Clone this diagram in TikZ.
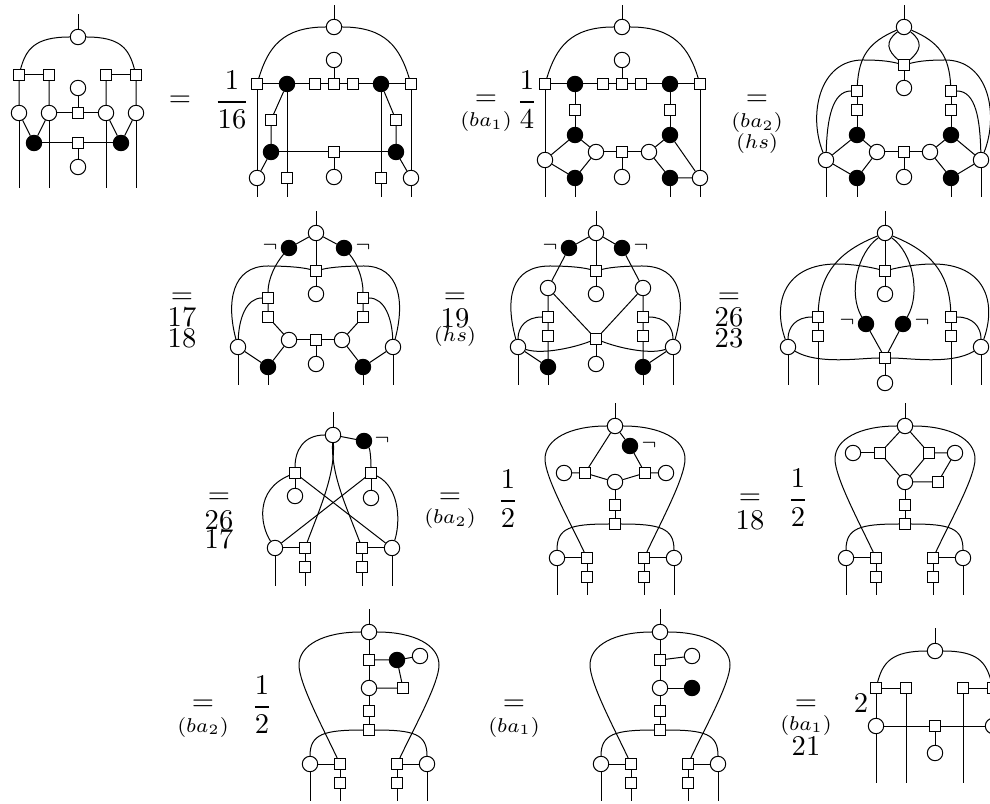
\documentclass[tikz,border=0pt]{standalone}
\usepackage{amsfonts, amssymb, amsmath}
\usepackage{tikz}
\tikzset{
  wn/.style={circle,draw,fill=white,inner sep=0pt,minimum size=5.4pt},
  bn/.style={circle,draw,fill=black,inner sep=0pt,minimum size=5.4pt},
  sq/.style={rectangle,draw,fill=white,inner sep=0pt,minimum size=3.8pt},
  lab/.style={inner sep=0pt},
  sublab/.style={inner sep=0pt,font=\scriptsize}
}
\newcommand{\bigarc}[3]{\draw (#1) .. controls +(#3*45,0) and +(0,-20) .. ++(#3*70,33) .. controls +(0,18) and +(#3*18,-38) .. (#2);}
\newcommand{\footarc}[3]{\draw (#1) .. controls +(#3*45,0) and +(0,-30) .. (#2);}
\newcommand{\thickfrac}[2]{$\genfrac{}{}{0.7pt}{0}{#1}{#2}$}
\begin{document}
\begin{tikzpicture}[x=0.35pt,y=-0.35pt,line width=0.35pt]
  \useasboundingbox (0,0) rectangle (990,804);
  \clip (0,0) rectangle (990,804);

  \foreach \n/\x/\y in {a0/78/37,a1/19/113,a2/49/113,a3/106/113,a4/136/113,a5/78/88,a6/78/167} \node[wn] (\n) at (\x,\y) {};
  \foreach \n/\x/\y in {as1/19/75,as2/49/75,as3/106/75,as4/136/75,as5/78/113,as6/78/143} \node[sq] (\n) at (\x,\y) {};
  \foreach \n/\x/\y in {ab1/34/143,ab2/121/143} \node[bn] (\n) at (\x,\y) {};
  \draw (a0) .. controls +(-43,0) and +(7,-26) .. (as1);
  \draw (a0) .. controls +(43,0) and +(-7,-26) .. (as4);
  \draw (as1) -- (as2);
  \draw (as3) -- (as4);
  \draw (as1) -- (a1) -- (ab1) -- (a2) -- (as2);
  \draw (as4) -- (a4) -- (ab2) -- (a3) -- (as3);
  \draw (a2) -- (as5) -- (a3);
  \draw (a5) -- (as5);
  \draw (ab1) -- (as6) -- (ab2);
  \draw (as6) -- (a6);

  \foreach \n/\x/\y in {b0/334/27,b1/334/60,b2/257/178,b3/411/178,b4/334/177} \node[wn] (\n) at (\x,\y) {};
  \foreach \n/\x/\y in {bs1/257/84,bs2/315/84,bs3/334/84,bs4/353/84,bs5/411/84,bs6/271/120,bs7/396/120,bs8/334/152,bs9/287/178,bs10/381/178} \node[sq] (\n) at (\x,\y) {};
  \foreach \n/\x/\y in {bb1/287/84,bb2/381/84,bb3/271/152,bb4/396/152} \node[bn] (\n) at (\x,\y) {};
  \draw (b0) .. controls +(-52,0) and +(11,-36) .. (bs1);
  \draw (b0) .. controls +(52,0) and +(-11,-36) .. (bs5);
  \draw (bs1) -- (bb1) -- (bs2) -- (bs3) -- (bs4) -- (bb2) -- (bs5);
  \draw (b1) -- (bs3);
  \draw (bs1) -- (b2);
  \draw (bs5) -- (b3);
  \draw (bb1) -- (bs9);
  \draw (bb2) -- (bs10);
  \draw (bb1) -- (bs6) -- (bb3) -- (b2);
  \draw (bb2) -- (bs7) -- (bb4) -- (b3);
  \draw (bb3) -- (bs8) -- (bb4);
  \draw (bs8) -- (b4);

  \foreach \n/\x/\y in {c0/622/27,c1/622/60,c2/545/160,c3/596/152,c4/649/152,c5/700/178,c6/622/177} \node[wn] (\n) at (\x,\y) {};
  \foreach \n/\x/\y in {cs1/545/84,cs2/603/84,cs3/622/84,cs4/641/84,cs5/700/84,cs6/575/110,cs7/670/110,cs8/622/152} \node[sq] (\n) at (\x,\y) {};
  \foreach \n/\x/\y in {cb1/575/84,cb2/670/84,cb3/575/135,cb4/670/135,cb5/575/178,cb6/670/178} \node[bn] (\n) at (\x,\y) {};
  \draw (c0) .. controls +(-52,0) and +(11,-36) .. (cs1);
  \draw (c0) .. controls +(52,0) and +(-11,-36) .. (cs5);
  \draw (cs1) -- (cb1) -- (cs2) -- (cs3) -- (cs4) -- (cb2) -- (cs5);
  \draw (c1) -- (cs3);
  \draw (cs1) -- (c2);
  \draw (cs5) -- (c5);
  \draw (cb1) -- (cs6) -- (cb3);
  \draw (cb2) -- (cs7) -- (cb4);
  \draw (cb3) -- (c2) -- (cb5) -- (c3) -- (cb3);
  \draw (cb4) -- (c4) -- (cb6) -- (c5) -- (cb4);
  \draw (c3) -- (cs8) -- (c4);
  \draw (cs8) -- (c6);

  \foreach \n/\x/\y in {d0/904/27,d1/904/88,d2/826/160,d3/877/152,d4/930/152,d5/981/160,d6/904/177} \node[wn] (\n) at (\x,\y) {};
  \foreach \n/\x/\y in {ds1/904/65,ds2/857/91,ds3/951/91,ds4/857/110,ds5/951/110,ds6/904/152} \node[sq] (\n) at (\x,\y) {};
  \foreach \n/\x/\y in {db1/857/135,db2/951/135,db3/857/178,db4/951/178} \node[bn] (\n) at (\x,\y) {};
  \draw (d0) .. controls +(-20,15) and +(-16,-14) .. (ds1);
  \draw (d0) .. controls +(20,15) and +(16,-14) .. (ds1);
  \draw (d0) .. controls +(-35,15) and +(2,-35) .. (ds2);
  \draw (d0) .. controls +(35,15) and +(-2,-35) .. (ds3);
  \draw (ds1) .. controls +(-15,-4) and +(15,0) .. ++(-41,-5) .. controls +(-44,0) and +(-18,-45) .. (d2);
  \draw (ds1) .. controls +(15,-4) and +(-15,0) .. ++(41,-5) .. controls +(44,0) and +(18,-45) .. (d5);
  \draw (ds2) .. controls +(-25,0) and +(1,-40) .. (d2);
  \draw (ds3) .. controls +(25,0) and +(-1,-40) .. (d5);
  \draw (ds1) -- (d1);
  \draw (ds2) -- (ds4) -- (db1);
  \draw (ds3) -- (ds5) -- (db2);
  \draw (db1) -- (d2) -- (db3) -- (d3) -- (db1);
  \draw (db2) -- (d4) -- (db4) -- (d5) -- (db2);
  \draw (d3) -- (ds6) -- (d4);
  \draw (ds6) -- (d6);

  \foreach \n/\x/\y in {e0/316/233,e1/316/294,e2/238/347,e3/289/340,e4/342/340,e5/393/347,e6/316/364} \node[wn] (\n) at (\x,\y) {};
  \foreach \n/\x/\y in {es1/316/271,es2/268/298,es3/268/317,es4/363/298,es5/363/317,es6/316/340} \node[sq] (\n) at (\x,\y) {};
  \foreach \n/\x/\y in {eb1/289/248,eb2/344/248,eb3/268/367,eb4/363/367} \node[bn] (\n) at (\x,\y) {};
  \node[sublab] (en1) at (270,247) {$\neg$};
  \node[sublab] (en2) at (363,247) {$\neg$};
  \draw (e0) -- (eb1);
  \draw (e0) -- (eb2);
  \draw (e0) -- (es1) -- (e1);
  \draw (eb1) .. controls +(-13,15) and +(0,-20) .. (es2);
  \draw (eb2) .. controls +(13,15) and +(0,-20) .. (es4);
  \draw (es1) .. controls +(-15,-4) and +(15,0) .. ++(-48,-5) .. controls +(-36,0) and +(-12,-45) .. (e2);
  \draw (es1) .. controls +(15,-4) and +(-15,0) .. ++(48,-5) .. controls +(36,0) and +(12,-45) .. (e5);
  \draw (es2) .. controls +(-22,0) and +(1,-28) .. (e2);
  \draw (es4) .. controls +(22,0) and +(-1,-28) .. (e5);
  \draw (es2) -- (es3) -- (e3);
  \draw (es4) -- (es5) -- (e4);
  \draw (e3) -- (es6) -- (e4);
  \draw (es6) -- (e6);
  \draw (e2) -- (eb3) -- (e3);
  \draw (e5) -- (eb4) -- (e4);

  \foreach \n/\x/\y in {f0/596/233,f1/596/294,f2/548/288,f3/643/288,f4/518/347,f5/673/347,f6/596/364} \node[wn] (\n) at (\x,\y) {};
  \foreach \n/\x/\y in {fs1/596/271,fs2/548/317,fs3/548/336,fs4/643/317,fs5/643/336,fs6/596/339} \node[sq] (\n) at (\x,\y) {};
  \foreach \n/\x/\y in {fb1/569/248,fb2/622/248,fb3/548/367,fb4/643/367} \node[bn] (\n) at (\x,\y) {};
  \node[sublab] (fn1) at (550,247) {$\neg$};
  \node[sublab] (fn2) at (641,247) {$\neg$};
  \draw (f0) -- (fb1) -- (f2) -- (fs2) -- (fs3) -- (fb3);
  \draw (f0) -- (fb2) -- (f3) -- (fs4) -- (fs5) -- (fb4);
  \draw (f0) -- (fs1) -- (f1);
  \draw (f2) -- (fs6) -- (f3);
  \draw (fs6) -- (f6);
  \draw (f4) -- (fb3);
  \draw (f5) -- (fb4);
  \draw (fs1) .. controls +(-15,-4) and +(15,0) .. ++(-46,-5) .. controls +(-40,0) and +(-13,-47) .. (f4);
  \draw (fs1) .. controls +(15,-4) and +(-15,0) .. ++(46,-5) .. controls +(40,0) and +(13,-47) .. (f5);
  \draw (fs2) .. controls +(-22,0) and +(0,-20) .. (f4);
  \draw (fs4) .. controls +(22,0) and +(0,-20) .. (f5);
  \draw (f4) .. controls +(25,8) and +(-20,8) .. (fs6);
  \draw (f5) .. controls +(-25,8) and +(20,8) .. (fs6);

  \foreach \n/\x/\y in {g0/885/233,g1/885/294,g2/788/347,g3/981/347,g4/885/383} \node[wn] (\n) at (\x,\y) {};
  \foreach \n/\x/\y in {gs1/885/271,gs2/818/317,gs3/818/336,gs4/951/317,gs5/951/336,gs6/885/358} \node[sq] (\n) at (\x,\y) {};
  \foreach \n/\x/\y in {gb1/866/324,gb2/903/324} \node[bn] (\n) at (\x,\y) {};
  \node[sublab] (gn1) at (847,322) {$\neg$};
  \node[sublab] (gn2) at (922,322) {$\neg$};
  \draw (g0) -- (gs1) -- (g1);
  \draw (gs6) -- (g4);
  \draw (gs2) -- (gs3);
  \draw (gs4) -- (gs5);
  \draw (gb1) -- (gs6) -- (gb2);
  \draw (g0) .. controls +(-45,18) and +(2,-45) .. (gs2);
  \draw (g0) .. controls +(45,18) and +(-2,-45) .. (gs4);
  \draw (g0) .. controls +(-28,20) and +(-18,-30) .. (gb1);
  \draw (g0) .. controls +(28,20) and +(18,-30) .. (gb2);
  \draw (gs1) .. controls +(-15,-4) and +(15,0) .. ++(-48,-7) .. controls +(-52,0) and +(-16,-45) .. (g2);
  \draw (gs1) .. controls +(15,-4) and +(-15,0) .. ++(48,-7) .. controls +(52,0) and +(16,-45) .. (g3);
  \draw (gs2) .. controls +(-22,0) and +(0,-20) .. (g2);
  \draw (gs4) .. controls +(22,0) and +(0,-20) .. (g3);
  \draw (g2) .. controls +(30,18) and +(-25,0) .. (gs6);
  \draw (g3) .. controls +(-30,18) and +(25,0) .. (gs6);

  \foreach \n/\x/\y in {h0/333/435,h1/295/496,h2/371/498,h3/275/548,h4/392/548} \node[wn] (\n) at (\x,\y) {};
  \foreach \n/\x/\y in {hs1/295/473,hs2/371/473,hs3/305/548,hs4/362/548,hs5/305/567,hs6/362/567} \node[sq] (\n) at (\x,\y) {};
  \node[bn] (hb1) at (364,441) {};
  \node[sublab] (hn1) at (382,440) {$\neg$};
  \draw (h0) .. controls +(-30,0) and +(0,-22) .. (hs1);
  \draw (h0) -- (hb1);
  \draw (hb1) .. controls +(6,8) and +(0,-15) .. (hs2);
  \draw (h0) .. controls +(2,40) and +(15,-40) .. (hs3);
  \draw (h0) .. controls +(-2,40) and +(-15,-40) .. (hs4);
  \draw (hs1) .. controls +(-40,17) and +(-15,-23) .. (h3);
  \draw (hs2) .. controls +(30,15) and +(8,-23) .. (h4);
  \draw (hs1) -- (h1);
  \draw (hs2) -- (h2);
  \draw (hs1) -- (h4);
  \draw (hs2) -- (h3);
  \draw (h3) -- (hs3) -- (hs5);
  \draw (h4) -- (hs4) -- (hs6);

  \foreach \n/\x/\y in {i0/615/426,i1/564/473,i2/666/473,i3/615/482,i4/557/558,i5/674/558} \node[wn] (\n) at (\x,\y) {};
  \foreach \n/\x/\y in {is1/585/473,is2/645/473,is3/615/505,is4/615/524,is5/587/558,is6/644/558,is7/587/577,is8/644/577} \node[sq] (\n) at (\x,\y) {};
  \node[bn] (ib1) at (630,446) {};
  \node[sublab] (ineg) at (649,445) {$\neg$};
  \draw (i0) -- (is1);
  \draw (i0) -- (ib1) -- (is2);
  \draw (i1) -- (is1) -- (i3) -- (is2) -- (i2);
  \draw (i3) -- (is3) -- (is4);
  \bigarc{i0}{is5}{-1}
  \bigarc{i0}{is6}{1}
  \footarc{is4}{i4}{-1}
  \footarc{is4}{i5}{1}
  \draw (i4) -- (is5) -- (is7);
  \draw (i5) -- (is6) -- (is8);

  \foreach \n/\x/\y in {j0/905/426,j1/853/453,j2/955/453,j3/905/482,j4/846/558,j5/963/558} \node[wn] (\n) at (\x,\y) {};
  \foreach \n/\x/\y in {js1/880/453,js2/929/453,js3/938/482,js4/905/505,js5/905/524,js6/876/558,js7/933/558,js8/876/577,js9/933/577} \node[sq] (\n) at (\x,\y) {};
  \draw (j0) -- (js1) -- (j3) -- (js2) -- (j0);
  \draw (j1) -- (js1);
  \draw (js2) -- (j2) -- (js3) -- (j3);
  \draw (j3) -- (js4) -- (js5);
  \bigarc{j0}{js6}{-1}
  \bigarc{j0}{js7}{1}
  \footarc{js5}{j4}{-1}
  \footarc{js5}{j5}{1}
  \draw (j4) -- (js6) -- (js8);
  \draw (j5) -- (js7) -- (js9);

  \foreach \n/\x/\y in {k0/369/632,k1/420/656,k2/369/688,k3/310/764,k4/427/764} \node[wn] (\n) at (\x,\y) {};
  \foreach \n/\x/\y in {ks1/369/660,ks2/403/688,ks3/369/711,ks4/369/730,ks5/340/764,ks6/397/764,ks7/340/783,ks8/397/783} \node[sq] (\n) at (\x,\y) {};
  \node[bn] (kb1) at (397,660) {};
  \draw (k0) -- (ks1) -- (k2) -- (ks3) -- (ks4);
  \draw (ks1) -- (kb1) -- (k1);
  \draw (kb1) -- (ks2) -- (k2);
  \bigarc{k0}{ks5}{-1}
  \bigarc{k0}{ks6}{1}
  \footarc{ks4}{k3}{-1}
  \footarc{ks4}{k4}{1}
  \draw (k3) -- (ks5) -- (ks7);
  \draw (k4) -- (ks6) -- (ks8);

  \foreach \n/\x/\y in {l0/660/632,l1/692/656,l2/660/688,l3/601/764,l4/718/764} \node[wn] (\n) at (\x,\y) {};
  \foreach \n/\x/\y in {ls1/660/660,ls3/660/711,ls4/660/730,ls5/631/764,ls6/688/764,ls7/631/783,ls8/688/783} \node[sq] (\n) at (\x,\y) {};
  \node[bn] (lb1) at (692,688) {};
  \draw (l0) -- (ls1) -- (l2) -- (ls3) -- (ls4);
  \draw (ls1) -- (l1);
  \draw (l2) -- (lb1);
  \bigarc{l0}{ls5}{-1}
  \bigarc{l0}{ls6}{1}
  \footarc{ls4}{l3}{-1}
  \footarc{ls4}{l4}{1}
  \draw (l3) -- (ls5) -- (ls7);
  \draw (l4) -- (ls6) -- (ls8);

  \foreach \n/\x/\y in {m0/935/651,m1/876/726,m2/993/726,m3/935/753} \node[wn] (\n) at (\x,\y) {};
  \foreach \n/\x/\y in {ms1/876/688,ms2/906/688,ms3/963/688,ms4/993/688,ms5/935/726} \node[sq] (\n) at (\x,\y) {};
  \draw (m0) .. controls +(-43,0) and +(7,-26) .. (ms1);
  \draw (m0) .. controls +(43,0) and +(-7,-26) .. (ms4);
  \draw (ms1) -- (ms2);
  \draw (ms3) -- (ms4);
  \draw (ms1) -- (m1);
  \draw (ms4) -- (m2);
  \draw (m1) -- (ms5) -- (m2);
  \draw (ms5) -- (m3);

  \foreach \n/\y in {a0/14,a1/188,a2/188,a3/188,a4/188,b0/5,b2/197,bs9/197,bs10/197,b3/197,c0/5,c2/197,cb5/197,cb6/197,c5/197,d0/5,d2/197,db3/197,db4/197,d5/197,e0/211,e2/385,eb3/385,eb4/385,e5/385,f0/211,f4/385,fb3/385,fb4/385,f5/385,g0/211,g2/385,gs3/385,gs5/385,g3/385,h0/412,h3/586,hs5/586,hs6/586,h4/586,i0/403,i4/595,is7/595,is8/595,i5/595,j0/403,j4/595,js8/595,js9/595,j5/595,k0/609,k3/801,ks7/801,ks8/801,k4/801,l0/609,l3/801,ls7/801,ls8/801,l4/801,m0/628,m1/783,ms2/783,ms3/783,m2/783} {
    \coordinate (\n e) at (\n |- 0,\y);
    \draw (\n) -- (\n e);
  }

  \foreach \n/\x/\y in {q1/180/101,q2/486/100,q3/757/100,q4/182/298,q5/455/298,q6/729/298,q7/219/498,q8/450/498,q9/750/499,q10/203/705,q11/514/705,q12/806/705} \node[lab] (\n) at (\x,\y) {$=$};
  \node[lab] (fr1) at (232,100) {\thickfrac{1}{16}};
  \node[lab] (fr2) at (527,100) {\thickfrac{1}{4}};
  \node[lab] (fr3) at (508,499) {\thickfrac{1}{2}};
  \node[lab] (fr4) at (798,498) {\thickfrac{1}{2}};
  \node[lab] (fr5) at (262,705) {\thickfrac{1}{2}};
  \foreach \n/\x/\y/\t in {r1/182/317/17,r2/182/338/18,r3/455/318/19,r4/729/317/26,r5/729/338/23,r6/219/520/26,r7/219/539/17,r8/750/520/18,r9/806/746/21,r10/861/703/2} \node[lab] (\n) at (\x,\y) {$\t$};
  \foreach \n/\x/\y in {t1/486/122,t2/514/727,t3/806/725} \node[sublab] (\n) at (\x,\y) {$(ba_1)$};
  \foreach \n/\x/\y in {u1/757/123,u2/450/519,u3/203/727} \node[sublab] (\n) at (\x,\y) {$(ba_2)$};
  \foreach \n/\x/\y in {v1/757/144,v2/455/337} \node[sublab] (\n) at (\x,\y) {$(hs)$};
\end{tikzpicture}
\end{document}
